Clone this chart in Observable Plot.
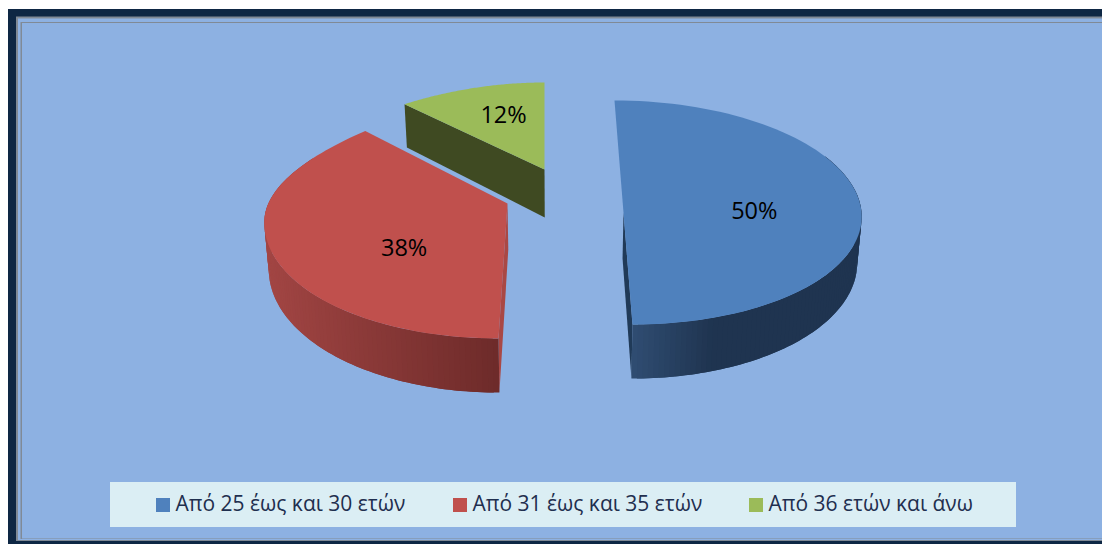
<!DOCTYPE html>
<html>
<head>
<meta charset="utf-8">
<script src="https://cdn.jsdelivr.net/npm/d3@7"></script>
<script src="https://cdn.jsdelivr.net/npm/@observablehq/plot@0.6"></script>
<style>html,body{margin:0;padding:0;background:#fff;overflow:hidden}svg{display:block}</style>
</head>
<body>
<div id="chart"></div>
<script>
const categories = ["Από 25 έως και 30 ετών", "Από 31 έως και 35 ετών", "Από 36 ετών και άνω"];
const shares = [50, 38, 12];
const topColors = ["#4f81bd", "#c0504d", "#9bbb59"];
const cutColors = ["#203a58", "#a94845", "#3f4a22"];
const sideFrom = ["#2f4c71", "#6e2b2a", "#3f4a22"];
const sideTo = ["#1f3450", "#a34644", "#3f4a22"];

// Exploded 3D pie: one pose per slice
const vanishX = 560;
const apexX = [623, 507, 544];
const apexY = [212, 203, 169];
const rimCY = [212, 218, 162];
const rimRY = [112, 120, 80];
const farShrink = [0, 0.222, 0.18];
const skew = [-9, 9, 0];
const radius = [238, 243, 224];
const depth = [46, 46, 48];
const labelR = [0.55, 0.515, 0.65];
const labelDeg = [89, 233.5, 341.9];

const W = 1102, H = 544;
const rad = d => d * Math.PI / 180;
const ends = d3.cumsum(shares).map(v => v / d3.sum(shares) * 360);
const starts = ends.map((_, i) => (i ? ends[i - 1] : 0));

function pt(i, deg, r = 1, low = false) {
  const c = Math.cos(rad(deg)), s = Math.sin(rad(deg));
  const w = 1 + farShrink[i] * r * (c > 0 ? c * c : 0);
  let x = apexX[i] + radius[i] * r * s / w + skew[i] * r * c;
  let y = apexY[i] + r * (rimCY[i] - apexY[i] - rimRY[i] * c);
  if (low) { x = vanishX + (x - vanishX) * 0.985; y += depth[i] / (1 + 0.15 * r * c); }
  return {x, y};
}

const polys = [];
let uid = 0;
const poly = (points, color) => {
  const id = uid++;
  points.forEach(p => polys.push({x: p.x, y: p.y, id, color}));
};
const range = (a, b, n) => d3.range(n + 1).map(k => a + (b - a) * k / n);

function drawSlice(i, sideA, sideB, cutDeg) {
  // flat cut face
  poly([pt(i, cutDeg, 0), pt(i, cutDeg, 1), pt(i, cutDeg, 1, true), pt(i, cutDeg, 0, true)], cutColors[i]);
  // rim, in overlapping strips so that it can shade without seams
  if (sideB !== sideA) {
    const col = d3.interpolateRgb(sideFrom[i], sideTo[i]);
    const n = 90, t = range(sideA, sideB, n);
    for (let k = 0; k < n; k++) {
      const m = Math.abs(Math.sin(rad(t[k])));
      const f = i === 0 ? Math.min(1, m / 0.33) : m;
      const b = t[Math.min(n, k + 2)];
      poly([...range(t[k], b, 2).map(d => pt(i, d)), ...range(b, t[k], 2).map(d => pt(i, d, 1, true))], col(f));
    }
  }
  // top face
  const arc = range(starts[i], ends[i], 90).map(d => pt(i, d));
  poly([pt(i, 0, 0), ...arc], topColors[i]);
}
drawSlice(2, 0, 0, starts[2]);
drawSlice(1, 180, 300, 180);
drawSlice(0, 180, 60, 180);

const labels = shares.map((v, i) => ({...pt(i, labelDeg[i], labelR[i]), text: `${v}%`}));

// frame
const frameX1 = [8, 16, 18, 20.5];
const frameY1 = [9, 16.5, 18.5, 22];
const frameX2 = [W, W, W, W];
const frameY2 = [H, 541, 540, 539];
const frameFill = ["#0e2744", "#808a96", "#8db1e2", "#808a96"];
const frame = frameX1.map((x1, i) => ({x1, y1: frameY1[i], x2: frameX2[i], y2: frameY2[i], fill: frameFill[i]}));
const bg = {x1: 22, y1: 23, x2: W, y2: 538.5, fill: "#8db1e2"};

// legend
const swatchX = [156, 453, 749];
const legend = categories.map((t, i) => ({t, x1: swatchX[i], x2: swatchX[i] + 14, y1: 498, y2: 512, fill: topColors[i], tx: swatchX[i] + 19}));

const chart = Plot.plot({
  width: W, height: H, margin: 0,
  style: {background: "transparent"},
  x: {domain: [0, W], range: [0, W], axis: null},
  y: {domain: [0, H], range: [0, H], axis: null},
  color: {type: "identity"},
  marks: [
    Plot.rect([...frame, bg], {x1: "x1", x2: "x2", y1: "y1", y2: "y2", fill: "fill"}),
    Plot.line(polys, {x: "x", y: "y", z: "id", fill: "color", stroke: "none", curve: "linear"}),
    Plot.text(labels, {x: "x", y: "y", text: "text", fontSize: 23.5, fontFamily: "Open Sans", fill: "#000", textAnchor: "middle"}),
    Plot.rect([{x1: 110, x2: 1016, y1: 482, y2: 527}], {x1: "x1", x2: "x2", y1: "y1", y2: "y2", fill: () => "#dbeef4"}),
    Plot.rect(legend, {x1: "x1", x2: "x2", y1: "y1", y2: "y2", fill: "fill"}),
    Plot.text(legend, {x: "tx", y: () => 504, text: "t", textAnchor: "start", fontSize: 21, fontFamily: "Open Sans", fill: "#1f2f4f"})
  ]
});
document.getElementById("chart").append(chart);
</script>
</body>
</html>
